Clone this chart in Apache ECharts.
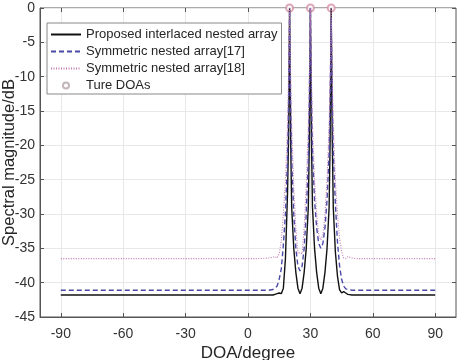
<!DOCTYPE html>
<html>
<head>
<meta charset="utf-8">
<script src="https://cdn.jsdelivr.net/npm/echarts@6/dist/echarts.min.js"></script>
<style>
  html, body { margin: 0; padding: 0; background: #fff; }
  #main { width: 462px; height: 360px; }
</style>
</head>
<body>
<div id="main"></div>
<script>
// DOA grid (degree), finer around the three sources
var doa = [-90, -80, -70, -60, -50, -40, -30, -20, -10, 0, 5, 10,
  12, 13, 14, 15, 16, 17, 18, 19, 19.5, 20, 20.5,
  21, 22, 23, 24, 25, 26, 27, 28, 29, 29.5, 30, 30.5,
  31, 32, 33, 34, 35, 36, 37, 38, 39, 39.5, 40, 40.5,
  41, 42, 43, 44, 45, 46, 47, 48, 50, 52, 55, 60, 70, 80, 90];

// Proposed interlaced nested array (dB)
var proposed = [-41.8, -41.8, -41.8, -41.8, -41.8, -41.8, -41.8, -41.8, -41.8, -41.8, -41.8, -41.8,
  -41.8, -41.7, -41.6, -41.5, -41.6, -40.8, -36.5, -27, -19, 0, -19,
  -29, -35, -38.5, -40.8, -41.6, -40.8, -38.5, -35, -29, -19, 0, -19,
  -29, -35, -38.5, -40.8, -41.6, -40.8, -38.5, -35, -29, -19, 0, -19,
  -29, -35.5, -39, -41, -41.5, -41.3, -41.5, -41.7, -41.8, -41.8, -41.8, -41.8, -41.8, -41.8, -41.8];

// Symmetric nested array [17]
var sna17 = [-41.1, -41.1, -41.1, -41.1, -41.1, -41.1, -41.1, -41.1, -41.1, -41.1, -41.1, -41.1,
  -41.0, -40.8, -40.5, -39.5, -38, -34.5, -30, -22, -14, -0.3, -14,
  -22, -30, -35, -37.6, -38.3, -37.6, -35, -30, -22, -13, 0, -13,
  -21, -28, -32, -34.3, -35, -34.3, -32, -28, -21, -13, -1.5, -13,
  -21, -28.5, -34, -37.5, -39.5, -40.5, -40.9, -41.0, -41.1, -41.1, -41.1, -41.1, -41.1, -41.1, -41.1];

// Symmetric nested array [18]
var sna18 = [-36.5, -36.5, -36.5, -36.5, -36.5, -36.5, -36.5, -36.5, -36.5, -36.5, -36.5, -36.4,
  -36.3, -36.2, -36.4, -35.8, -34, -30, -25, -17, -10, 0, -10,
  -17, -26, -32, -35.8, -35.6, -35.8, -32, -26, -17, -10, 0, -10,
  -17, -25, -30, -33, -33.8, -33, -30, -25, -17, -10, 0, -10,
  -17, -25, -30, -33.5, -35.5, -36.4, -36.5, -36.2, -36.4, -36.5, -36.5, -36.5, -36.5, -36.5, -36.5];

// true DOAs
var trueDoa = [20, 30, 40];
var trueMag = [0, 0, 0];

var xTicks = [-90, -60, -30, 0, 30, 60, 90];

function pairs(xs, ys) {
  return xs.map(function (x, i) { return [x, ys[i]]; });
}

var font = 'Arial, "Liberation Sans", sans-serif';
var noSymbol = { opacity: 0 };
var myChart = echarts.init(document.getElementById('main'));
var option = {
  animation: false,
  backgroundColor: '#fff',
  grid: { left: 40, right: 6, top: 8, bottom: 43, outerBoundsMode: 'none', containLabel: false,
    show: true, borderColor: '#555', borderWidth: 1 },
  legend: {
    orient: 'vertical',
    left: 47, top: 23,
    padding: [5, 4, 2, 3],
    itemGap: 4,
    itemWidth: 30, itemHeight: 6,
    backgroundColor: '#fff',
    borderColor: '#888', borderWidth: 1,
    textStyle: { fontFamily: font, fontSize: 13, color: '#262626' },
    data: [
      { name: 'Proposed interlaced nested array', itemStyle: noSymbol },
      { name: 'Symmetric nested array[17]', itemStyle: noSymbol },
      { name: 'Symmetric nested array[18]', itemStyle: noSymbol },
      { name: 'Ture DOAs', icon: 'emptyCircle', itemStyle: { color: '#c2b6bc', opacity: 1 } }
    ]
  },
  xAxis: [{
    type: 'value', min: -100, max: 100, interval: 10,
    name: 'DOA/degree', nameLocation: 'middle', nameGap: 28, nameMoveOverlap: false,
    nameTextStyle: { fontFamily: font, fontSize: 17, color: '#262626' },
    axisLine: { onZero: false, lineStyle: { color: '#555' } },
    axisTick: { inside: true, length: 4, customValues: xTicks, lineStyle: { color: '#555' } },
    axisLabel: { customValues: xTicks, fontFamily: font, fontSize: 14, color: '#333', margin: 10 },
    splitLine: { show: true, lineStyle: { color: '#e8e8e8' } }
  }, {
    type: 'value', min: -100, max: 100, interval: 10, position: 'top',
    axisLine: { show: false, onZero: false },
    axisTick: { inside: true, length: 4, customValues: xTicks, lineStyle: { color: '#555' } },
    axisLabel: { show: false }, splitLine: { show: false }
  }],
  yAxis: [{
    type: 'value', min: -45, max: 0, interval: 5,
    name: 'Spectral magnitude/dB', nameLocation: 'middle', nameGap: 22, nameMoveOverlap: false,
    nameTextStyle: { fontFamily: font, fontSize: 16.5, color: '#262626' },
    axisLine: { show: true, onZero: false, lineStyle: { color: '#555' } },
    axisTick: { show: true, inside: true, length: 4, lineStyle: { color: '#555' } },
    axisLabel: { fontFamily: font, fontSize: 14, color: '#333', margin: 5 },
    splitLine: { show: true, lineStyle: { color: '#e8e8e8' } }
  }, {
    type: 'value', min: -45, max: 0, interval: 5, position: 'right',
    axisLine: { show: false, onZero: false },
    axisTick: { show: true, inside: true, length: 4, lineStyle: { color: '#555' } },
    axisLabel: { show: false }, splitLine: { show: false }
  }],
  series: [
    {
      name: 'Proposed interlaced nested array', type: 'line', symbol: 'none',
      data: pairs(doa, proposed),
      lineStyle: { color: '#111', width: 1.4, type: 'solid' },
      itemStyle: { color: '#111' }
    },
    {
      name: 'Symmetric nested array[17]', type: 'line', symbol: 'none',
      data: pairs(doa, sna17),
      lineStyle: { color: '#4a4aa6', width: 1.4, type: [5, 3] },
      itemStyle: { color: '#4a4aa6' }
    },
    {
      name: 'Symmetric nested array[18]', type: 'line', symbol: 'none',
      data: pairs(doa, sna18),
      lineStyle: { color: '#c27ab3', width: 1.1, type: [1, 1.5] },
      itemStyle: { color: '#c27ab3' }
    },
    {
      name: 'Ture DOAs', type: 'scatter', symbol: 'emptyCircle', symbolSize: 7,
      clip: false,
      data: pairs(trueDoa, trueMag),
      itemStyle: { color: '#d690a5', borderColor: '#d690a5', borderWidth: 1 }
    }
  ]
};
myChart.setOption(option, true);
</script>
</body>
</html>
